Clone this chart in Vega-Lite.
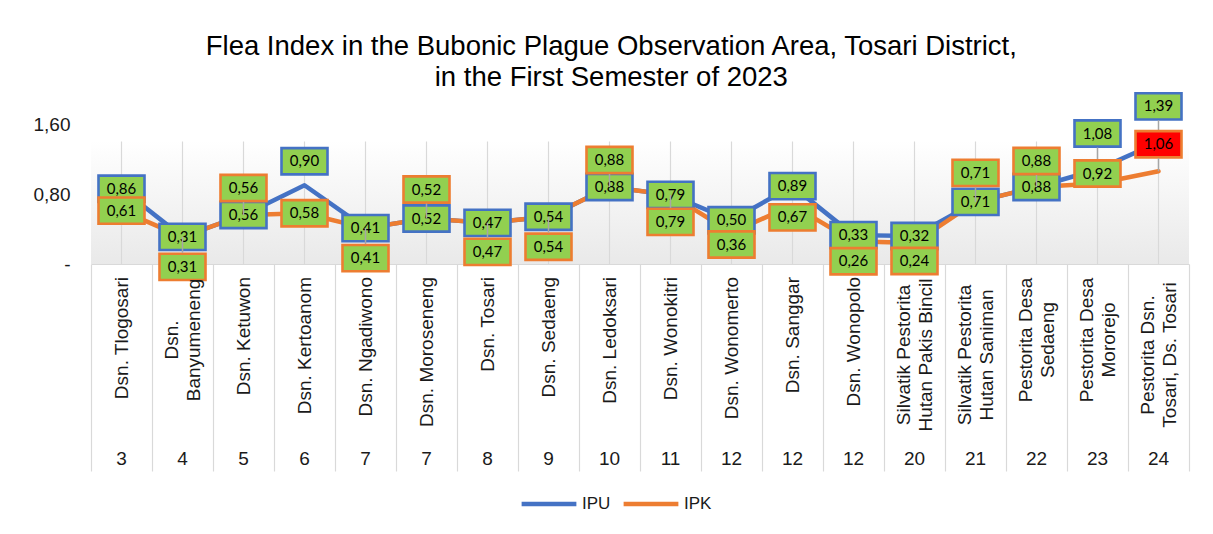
{
  "$schema": "https://vega.github.io/schema/vega-lite/v6.json",
  "width": 1098,
  "height": 140,
  "padding": {"left": 33, "top": 32, "right": 20, "bottom": 5},
  "background": "#ffffff",
  "title": {
    "text": ["Flea Index in the Bubonic Plague Observation Area, Tosari District,", "in the First Semester of 2023"],
    "font": "Liberation Sans",
    "fontSize": 27.5,
    "fontWeight": "normal",
    "color": "#000000",
    "anchor": "middle",
    "frame": "bounds",
    "lineHeight": 31,
    "offset": -3
  },
  "datasets": {
    "flea": [
      {"name": "Dsn. Tlogosari", "week": 3, "IPU": 0.86, "IPK": 0.61},
      {"name": "Dsn.\nBanyumeneng", "week": 4, "IPU": 0.31, "IPK": 0.31},
      {"name": "Dsn. Ketuwon", "week": 5, "IPU": 0.56, "IPK": 0.56},
      {"name": "Dsn. Kertoanom", "week": 6, "IPU": 0.90, "IPK": 0.58},
      {"name": "Dsn. Ngadiwono", "week": 7, "IPU": 0.41, "IPK": 0.41},
      {"name": "Dsn. Moroseneng", "week": 7, "IPU": 0.52, "IPK": 0.52},
      {"name": "Dsn. Tosari", "week": 8, "IPU": 0.47, "IPK": 0.47},
      {"name": "Dsn. Sedaeng", "week": 9, "IPU": 0.54, "IPK": 0.54},
      {"name": "Dsn. Ledoksari", "week": 10, "IPU": 0.88, "IPK": 0.88},
      {"name": "Dsn. Wonokitri", "week": 11, "IPU": 0.79, "IPK": 0.79},
      {"name": "Dsn. Wonomerto", "week": 12, "IPU": 0.50, "IPK": 0.36},
      {"name": "Dsn. Sanggar", "week": 12, "IPU": 0.89, "IPK": 0.67},
      {"name": "Dsn. Wonopolo", "week": 12, "IPU": 0.33, "IPK": 0.26},
      {"name": "Silvatik Pestorita\nHutan Pakis Bincil", "week": 20, "IPU": 0.32, "IPK": 0.24},
      {"name": "Silvatik Pestorita\nHutan Saniman", "week": 21, "IPU": 0.71, "IPK": 0.71},
      {"name": "Pestorita Desa\nSedaeng", "week": 22, "IPU": 0.88, "IPK": 0.88},
      {"name": "Pestorita Desa\nMororejo", "week": 23, "IPU": 1.08, "IPK": 0.92},
      {"name": "Pestorita Dsn.\nTosari, Ds. Tosari", "week": 24, "IPU": 1.39, "IPK": 1.06}
    ]
  },
  "data": {"name": "flea"},
  "encoding": {
    "x": {
      "field": "name",
      "type": "nominal",
      "sort": null,
      "scale": {"type": "band", "paddingInner": 0, "paddingOuter": 0},
      "axis": {
        "title": null,
        "orient": "bottom",
        "labels": false,
        "domainColor": "#d9d9d9",
        "domainWidth": 1.2,
        "ticks": true,
        "tickBand": "extent",
        "tickSize": 207,
        "tickColor": "#d9d9d9",
        "tickWidth": 1.2,
        "grid": false
      }
    }
  },
  "layer": [
    {
      "data": {"values": [{}]},
      "mark": {"type": "rect", "color": {"gradient": "linear", "x1": 0, "y1": 0, "x2": 0, "y2": 1, "stops": [{"offset": 0, "color": "#ffffff"}, {"offset": 0.12, "color": "#ffffff"}, {"offset": 1, "color": "#e9e9e9"}]}},
      "encoding": {
        "x": null,
        "y": {
          "datum": 1.6,
          "type": "quantitative",
          "scale": {"domain": [0, 1.6], "nice": false, "zero": true},
          "axis": {
            "title": null,
            "values": [0, 0.2, 0.4, 0.6, 0.8, 1.0, 1.2, 1.4, 1.6],
            "labelExpr": "datum.value == 0 ? '-' : replace(format(datum.value, '.2f'), '.', ',')",
            "labelFont": "Liberation Sans",
            "labelFontSize": 19,
            "labelColor": "#1a1a1a",
            "labelPadding": 21,
            "labelOverlap": false,
            "labelBound": false,
            "labelFlush": false,
            "domain": false,
            "ticks": false,
            "grid": false
          }
        },
        "y2": {"datum": 0}
      }
    },
    {
      "mark": {"type": "rule", "color": "#d9d9d9", "strokeWidth": 1.2},
      "encoding": {
        "y": {"datum": 0, "type": "quantitative"},
        "y2": {"datum": 1.4}
      }
    },
    {
      "mark": {"type": "line", "strokeWidth": 4.5, "strokeCap": "round", "strokeJoin": "round"},
      "encoding": {
        "y": {
          "field": "IPU",
          "type": "quantitative",
          "axis": {
            "title": null,
            "values": [0, 0.2, 0.4, 0.6, 0.8, 1.0, 1.2, 1.4, 1.6],
            "labelExpr": "datum.value == 0 ? '-' : replace(format(datum.value, '.2f'), '.', ',')",
            "labelFont": "Liberation Sans",
            "labelFontSize": 19,
            "labelColor": "#1a1a1a",
            "labelPadding": 21,
            "labelOverlap": false,
            "labelBound": false,
            "labelFlush": false,
            "domain": false,
            "ticks": false,
            "grid": false
          }
        },
        "color": {
          "datum": "IPU",
          "type": "nominal",
          "scale": {"domain": ["IPU", "IPK"], "range": ["#4472c4", "#ed7d31"]},
          "legend": {
            "title": null,
            "orient": "none",
            "legendX": 428,
            "legendY": 350,
            "direction": "horizontal",
            "symbolType": "stroke",
            "symbolSize": 3000,
            "symbolStrokeWidth": 4.5,
            "labelFont": "Liberation Sans",
            "labelFontSize": 17,
            "labelColor": "#1a1a1a",
            "labelOffset": 3,
            "columnPadding": 3
          }
        }
      }
    },
    {
      "mark": {"type": "line", "strokeWidth": 4.5, "strokeCap": "round", "strokeJoin": "round"},
      "encoding": {
        "y": {"field": "IPK", "type": "quantitative"},
        "color": {"datum": "IPK", "type": "nominal"}
      }
    },
    {
      "mark": {"type": "point", "shape": "M-1,-0.57L1,-0.57L1,0.57L-1,0.57Z", "size": 2116, "filled": true, "fill": "#92d050", "stroke": "#4472c4", "strokeWidth": 2.6, "opacity": 1, "fillOpacity": 1, "strokeOpacity": 1,
        "yOffset": {"expr": "({'Dsn. Kertoanom': -24, 'Pestorita Desa\\nMororejo': -36, 'Pestorita Dsn.\\nTosari, Ds. Tosari': -36})[datum.name] || 0"}},
      "encoding": {"y": {"field": "IPU", "type": "quantitative"}}
    },
    {
      "mark": {"type": "text", "font": "Lato", "fontSize": 15, "color": "#000000", "align": "center", "baseline": "middle",
        "text": {"expr": "replace(format(datum.IPU, '.2f'), '.', ',')"},
        "yOffset": {"expr": "({'Dsn. Kertoanom': -24, 'Pestorita Desa\\nMororejo': -36, 'Pestorita Dsn.\\nTosari, Ds. Tosari': -36})[datum.name] || 0"}},
      "encoding": {"y": {"field": "IPU", "type": "quantitative"}}
    },
    {
      "mark": {"type": "rule", "color": "#a6a6a6", "strokeWidth": 1.5,
        "y2Offset": {"expr": "(({'Dsn. Kertoanom': -24, 'Pestorita Desa\\nMororejo': -36, 'Pestorita Dsn.\\nTosari, Ds. Tosari': -36})[datum.name] || 0) + 14"},
        "strokeOpacity": {"expr": "abs(({'Dsn. Kertoanom': -24, 'Pestorita Desa\\nMororejo': -36, 'Pestorita Dsn.\\nTosari, Ds. Tosari': -36})[datum.name] || 0) >= 26 ? 1 : 0"}},
      "encoding": {"y": {"field": "IPU", "type": "quantitative"}, "y2": {"field": "IPU"}}
    },
    {
      "mark": {"type": "point", "shape": "M-1,-0.57L1,-0.57L1,0.57L-1,0.57Z", "size": 2116, "filled": true, "stroke": "#ed7d31", "strokeWidth": 2.6, "opacity": 1, "fillOpacity": 1, "strokeOpacity": 1,
        "fill": {"expr": "indexof(datum.name, 'Ds. Tosari') >= 0 ? '#ff0000' : '#92d050'"},
        "yOffset": {"expr": "({'Dsn.\\nBanyumeneng': 30, 'Dsn. Ketuwon': -27, 'Dsn. Ngadiwono': 30, 'Dsn. Moroseneng': -29, 'Dsn. Tosari': 29, 'Dsn. Sedaeng': 30, 'Dsn. Ledoksari': -27, 'Dsn. Wonokitri': 27, 'Dsn. Wonomerto': 12, 'Dsn. Sanggar': 12, 'Dsn. Wonopolo': 20, 'Silvatik Pestorita\\nHutan Pakis Bincil': 18, 'Silvatik Pestorita\\nHutan Saniman': -29, 'Pestorita Desa\\nSedaeng': -26, 'Pestorita Desa\\nMororejo': -10, 'Pestorita Dsn.\\nTosari, Ds. Tosari': -27})[datum.name] || 0"}},
      "encoding": {"y": {"field": "IPK", "type": "quantitative"}}
    },
    {
      "mark": {"type": "text", "font": "Lato", "fontSize": 15, "color": "#000000", "align": "center", "baseline": "middle",
        "text": {"expr": "replace(format(datum.IPK, '.2f'), '.', ',')"},
        "yOffset": {"expr": "({'Dsn.\\nBanyumeneng': 30, 'Dsn. Ketuwon': -27, 'Dsn. Ngadiwono': 30, 'Dsn. Moroseneng': -29, 'Dsn. Tosari': 29, 'Dsn. Sedaeng': 30, 'Dsn. Ledoksari': -27, 'Dsn. Wonokitri': 27, 'Dsn. Wonomerto': 12, 'Dsn. Sanggar': 12, 'Dsn. Wonopolo': 20, 'Silvatik Pestorita\\nHutan Pakis Bincil': 18, 'Silvatik Pestorita\\nHutan Saniman': -29, 'Pestorita Desa\\nSedaeng': -26, 'Pestorita Desa\\nMororejo': -10, 'Pestorita Dsn.\\nTosari, Ds. Tosari': -27})[datum.name] || 0"}},
      "encoding": {"y": {"field": "IPK", "type": "quantitative"}}
    },
    {
      "mark": {"type": "rule", "color": "#a6a6a6", "strokeWidth": 1.5,
        "y2Offset": {"expr": "(({'Dsn.\\nBanyumeneng': 30, 'Dsn. Ketuwon': -27, 'Dsn. Ngadiwono': 30, 'Dsn. Moroseneng': -29, 'Dsn. Tosari': 29, 'Dsn. Sedaeng': 30, 'Dsn. Ledoksari': -27, 'Dsn. Wonokitri': 27, 'Dsn. Wonomerto': 12, 'Dsn. Sanggar': 12, 'Dsn. Wonopolo': 20, 'Silvatik Pestorita\\nHutan Pakis Bincil': 18, 'Silvatik Pestorita\\nHutan Saniman': -29, 'Pestorita Desa\\nSedaeng': -26, 'Pestorita Desa\\nMororejo': -10, 'Pestorita Dsn.\\nTosari, Ds. Tosari': -27})[datum.name] || 0) * (1 - 14 / max(1, abs(({'Dsn.\\nBanyumeneng': 30, 'Dsn. Ketuwon': -27, 'Dsn. Ngadiwono': 30, 'Dsn. Moroseneng': -29, 'Dsn. Tosari': 29, 'Dsn. Sedaeng': 30, 'Dsn. Ledoksari': -27, 'Dsn. Wonokitri': 27, 'Dsn. Wonomerto': 12, 'Dsn. Sanggar': 12, 'Dsn. Wonopolo': 20, 'Silvatik Pestorita\\nHutan Pakis Bincil': 18, 'Silvatik Pestorita\\nHutan Saniman': -29, 'Pestorita Desa\\nSedaeng': -26, 'Pestorita Desa\\nMororejo': -10, 'Pestorita Dsn.\\nTosari, Ds. Tosari': -27})[datum.name] || 0)))"},
        "strokeOpacity": {"expr": "abs(({'Dsn.\\nBanyumeneng': 30, 'Dsn. Ketuwon': -27, 'Dsn. Ngadiwono': 30, 'Dsn. Moroseneng': -29, 'Dsn. Tosari': 29, 'Dsn. Sedaeng': 30, 'Dsn. Ledoksari': -27, 'Dsn. Wonokitri': 27, 'Dsn. Wonomerto': 12, 'Dsn. Sanggar': 12, 'Dsn. Wonopolo': 20, 'Silvatik Pestorita\\nHutan Pakis Bincil': 18, 'Silvatik Pestorita\\nHutan Saniman': -29, 'Pestorita Desa\\nSedaeng': -26, 'Pestorita Desa\\nMororejo': -10, 'Pestorita Dsn.\\nTosari, Ds. Tosari': -27})[datum.name] || 0) >= 26 ? 1 : 0"}},
      "encoding": {"y": {"field": "IPK", "type": "quantitative"}, "y2": {"field": "IPK"}}
    },
    {
      "mark": {"type": "text", "font": "Liberation Sans", "fontSize": 19, "color": "#1a1a1a", "angle": 270, "baseline": "middle", "lineHeight": 22, "lineBreak": "\n",
        "align": {"expr": "indexof(datum.name, '\\n') >= 0 ? 'center' : 'right'"},
        "xOffset": {"expr": "indexof(datum.name, '\\n') >= 0 ? -11 : 0"},
        "yOffset": {"expr": "indexof(datum.name, 'Silvatik') >= 0 || indexof(datum.name, 'Ds. Tosari') >= 0 ? 91 : (indexof(datum.name, '\\n') >= 0 ? 76 : 13)"}},
      "encoding": {
        "y": {"datum": 0, "type": "quantitative"},
        "text": {"field": "name", "type": "nominal"}
      }
    },
    {
      "mark": {"type": "text", "font": "Liberation Sans", "fontSize": 19, "color": "#1a1a1a", "align": "center", "baseline": "middle"},
      "encoding": {
        "y": {"datum": -2.23, "type": "quantitative"},
        "text": {"field": "week", "type": "quantitative"}
      }
    }
  ],
  "config": {
    "view": {"stroke": null},
    "font": "Liberation Sans",
    "axis": {"labelOverlap": false},
    "axisY": {"labelOverlap": false, "labelBound": false},
    "axisQuantitative": {"labelOverlap": false}
  }
}
